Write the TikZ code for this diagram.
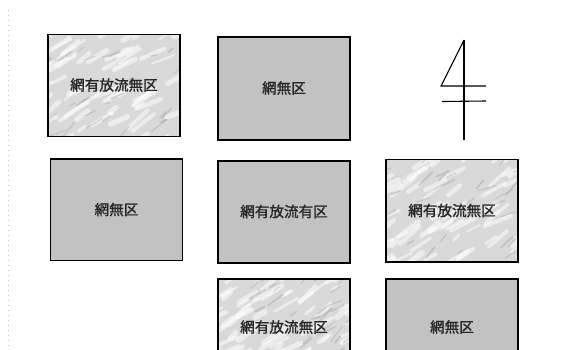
\documentclass[tikz,border=0pt]{standalone}
\usepackage{fontspec}
\newfontfamily\cjk[FakeBold=1.2]{Noto Sans CJK JP}
\begin{document}
\begin{tikzpicture}[x=1pt,y=-1pt,
  plainbox/.style={draw=black,line width=1.3pt,fill=black!24},
  marblebox/.style={draw=black,line width=1.3pt,fill=black!15},
  lbl/.style={font=\cjk\fontsize{14.6}{15}\selectfont,text=black!85},
  glyph/.style={draw=black,line width=1.1pt}]
\useasboundingbox (0,0) rectangle (561,349);
\fill[white] (0,0) rectangle (561,349);
% faint left margin dots
\draw[black!25,line width=0.5pt,dash pattern=on 1pt off 4pt] (8,10) -- (8,349);
% boxes
\path[marblebox] (48,34.5) rectangle (180,136.5);
\path[plainbox] (218,37) rectangle (350,140);
\path[plainbox] (50.5,159) rectangle (182.5,260.5);
\path[plainbox] (218,161) rectangle (350,263);
\path[marblebox] (386,159.5) rectangle (518,262);
\path[marblebox] (218,279) rectangle (350,360);
\path[plainbox] (386,279) rectangle (518,360);
% marble texture
\pgfmathsetseed{11}
\foreach \bx/\by/\bw/\bh in {48/34.5/132/102, 386/159.5/132/102.5, 218/279/132/80}{
  \begin{scope}
  \clip (\bx+1,\by+1) rectangle (\bx+\bw-1,\by+\bh-1);
  \foreach \k in {1,...,70}{
    \pgfmathsetmacro{\px}{\bx-15+rnd*(\bw+15)}
    \pgfmathsetmacro{\py}{\by+rnd*(\bh+15)}
    \pgfmathsetmacro{\ln}{8+rnd*22}
    \pgfmathsetmacro{\ang}{20+rnd*25}
    \pgfmathsetmacro{\lw}{2+rnd*4}
    \draw[white,line width=\lw pt,opacity=0.5,line cap=round]
      (\px,\py) -- ++({\ln*cos(\ang)},{-\ln*sin(\ang)});
  }
  \foreach \k in {1,...,35}{
    \pgfmathsetmacro{\px}{\bx-10+rnd*(\bw+10)}
    \pgfmathsetmacro{\py}{\by+rnd*(\bh+10)}
    \pgfmathsetmacro{\ln}{6+rnd*14}
    \pgfmathsetmacro{\ang}{15+rnd*40}
    \pgfmathsetmacro{\lw}{0.8+rnd*1.2}
    \draw[black!35,line width=\lw pt,opacity=0.45,line cap=round]
      (\px,\py) -- ++({\ln*cos(\ang)},{-\ln*sin(\ang)});
  }
  \end{scope}
  \draw[draw=black,line width=1.3pt] (\bx,\by) rectangle (\bx+\bw,\by+\bh);
}
% labels
\node[lbl] (t1) at (114,85) {網有放流無区};
\node[lbl] (t2) at (284,88) {網無区};
\node[lbl] (t3) at (116.5,209.5) {網無区};
\node[lbl] (t4) at (284,211.5) {網有放流有区};
\node[lbl] (t5) at (452,210.5) {網有放流無区};
\node[lbl] (t6) at (284,327) {網有放流無区};
\node[lbl] (t7) at (452,327) {網無区};
% handwritten 4
\draw[glyph] (464,40) -- (464,139.5);
\draw[glyph] (464,40) -- (441,86) -- (486,86);
\draw[glyph] (442,101.5) -- (486,101);
\end{tikzpicture}
\end{document}
